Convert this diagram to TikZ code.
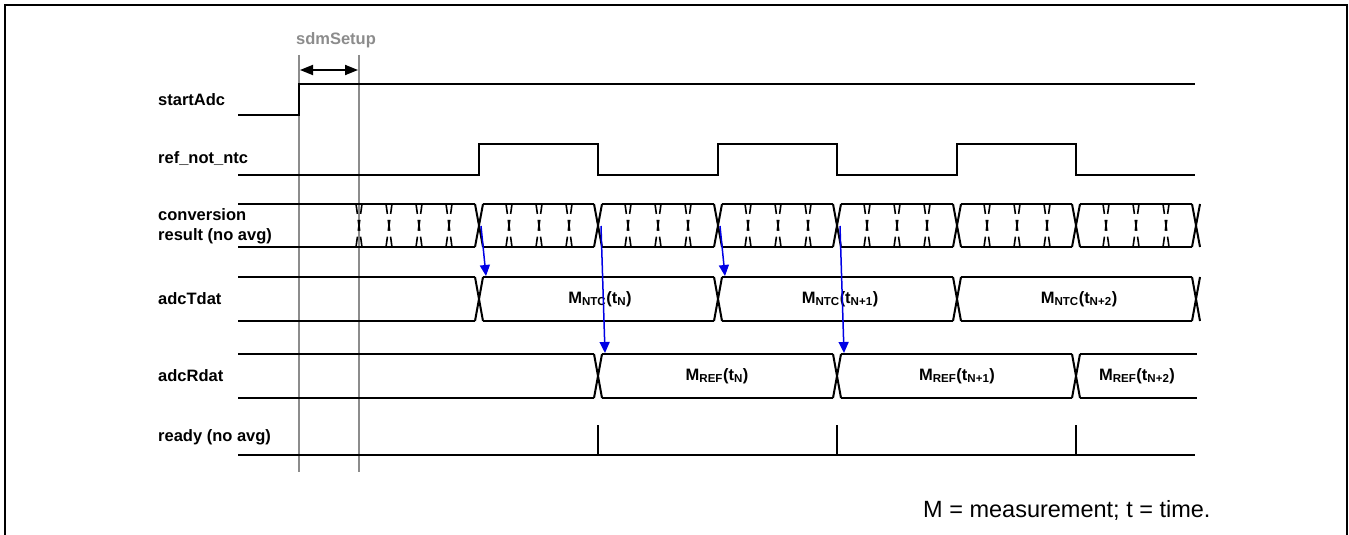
\documentclass[tikz,border=0pt]{standalone}
\usepackage{fontspec}
\setmainfont{Liberation Sans}
\usetikzlibrary{arrows.meta}
\tikzset{
  sig/.style={line width=2pt, black, line cap=butt, line join=miter},
  bus/.style={line width=2pt, black},
  marker/.style={line width=1.6pt, black!45},
  lbl/.style={font=\fontsize{16.5}{20}\selectfont\bfseries, anchor=west, inner sep=0pt, align=left},
  val/.style={font=\fontsize{16.5}{20}\selectfont\bfseries, inner sep=0pt},
  flow/.style={line width=1.5pt, blue!90!black, -{Triangle[width=10pt,length=11pt]}},
  dimarrow/.style={line width=1.8pt, {Triangle[width=10pt,length=13pt]}-{Triangle[width=10pt,length=13pt]}},
  tickx/.style={line width=1.6pt, dash pattern=on 10pt off 6pt on 11pt off 6pt on 12pt}
}
\begin{document}
\begin{tikzpicture}[x=1pt,y=-1pt]
\useasboundingbox (0,0) rectangle (1349,535);
\clip (0,0) rectangle (1349,535);
% frame
\draw[line width=2.2pt] (5,545) -- (5,5) -- (1347,5) -- (1347,545);

% setup markers
\node[val, text=black!45] (setup) at (336,40) {sdmSetup};
\coordinate (m1t) at (299,55); \coordinate (m1b) at (299,472);
\coordinate (m2t) at (359,55); \coordinate (m2b) at (359,472);
\draw[marker] (m1t) -- (m1b);
\draw[marker] (m2t) -- (m2b);
\coordinate (d1) at (300,70); \coordinate (d2) at (358,70);
\draw[dimarrow] (d1) -- (d2);

% labels
\node[lbl] (lstart) at (158,100) {startAdc};
\node[lbl] (lref) at (158,159) {ref\_not\_ntc};
\node[lbl] (lconv) at (158,226) {conversion\\result (no avg)};
\node[lbl] (ltdat) at (158,299) {adcTdat};
\node[lbl] (lrdat) at (158,376) {adcRdat};
\node[lbl] (lready) at (158,437) {ready (no avg)};

% startAdc
\draw[sig] (238,115) -- (299,115) -- (299,84) -- (1195,84);

% ref_not_ntc
\draw[sig] (238,175) -- (479,175) -- (479,144) -- (598,144) -- (598,175) -- (718,175) -- (718,144) -- (837,144) -- (837,175) -- (957,175) -- (957,144) -- (1076,144) -- (1076,175) -- (1195,175);

% conversion result bus
\def\ct{204}\def\cb{247}
\draw[bus] (238,\ct) -- (475,\ct) (238,\cb) -- (475,\cb);
\foreach \a/\b in {479/598,598/718,718/837,837/957,957/1076,1076/1196}{
  \draw[bus] (\a+4,\ct) -- (\b-4,\ct) (\a+4,\cb) -- (\b-4,\cb);
}
\foreach \x in {479,598,718,837,957,1076,1196}{
  \draw[bus] (\x-4,\ct) -- (\x+4,\cb) (\x+4,\ct) -- (\x-4,\cb);
}
\foreach \x in {359,389,419,449}{
  \draw[tickx] (\x-3,\ct) -- (\x+3,\cb) (\x+3,\ct) -- (\x-3,\cb);
}
\foreach \s in {479,598,718,837,957,1076}{
  \foreach \k in {30,60,90}{
    \draw[tickx] (\s+\k-3,\ct) -- (\s+\k+3,\cb) (\s+\k+3,\ct) -- (\s+\k-3,\cb);
  }
}

% adcTdat bus
\def\tt{277}\def\tb{321}
\draw[bus] (238,\tt) -- (475,\tt) (238,\tb) -- (475,\tb);
\foreach \a/\b in {479/718,718/957,957/1196}{
  \draw[bus] (\a+4,\tt) -- (\b-4,\tt) (\a+4,\tb) -- (\b-4,\tb);
}
\foreach \x in {479,718,957,1196}{
  \draw[bus] (\x-4,\tt) -- (\x+4,\tb) (\x+4,\tt) -- (\x-4,\tb);
}
\node[val] (t1) at (600,299) {M\textsubscript{NTC}(t\textsubscript{N})};
\node[val] (t2) at (840,299) {M\textsubscript{NTC}(t\textsubscript{N+1})};
\node[val] (t3) at (1079,299) {M\textsubscript{NTC}(t\textsubscript{N+2})};

% adcRdat bus
\def\rt{354}\def\rb{398}
\draw[bus] (238,\rt) -- (594,\rt) (238,\rb) -- (594,\rb);
\foreach \a/\b in {598/837,837/1076}{
  \draw[bus] (\a+4,\rt) -- (\b-4,\rt) (\a+4,\rb) -- (\b-4,\rb);
}
\draw[bus] (1080,\rt) -- (1197,\rt) (1080,\rb) -- (1197,\rb);
\foreach \x in {598,837,1076}{
  \draw[bus] (\x-4,\rt) -- (\x+4,\rb) (\x+4,\rt) -- (\x-4,\rb);
}
\node[val] (r1) at (717,376) {M\textsubscript{REF}(t\textsubscript{N})};
\node[val] (r2) at (957,376) {M\textsubscript{REF}(t\textsubscript{N+1})};
\node[val] (r3) at (1137,376) {M\textsubscript{REF}(t\textsubscript{N+2})};

% ready
\draw[sig] (238,455) -- (1195,455);
\foreach \x in {598,837,1076}{
  \draw[sig] (\x,425) -- (\x,455);
}

% data flow arrows
\coordinate (s1) at (481,226); \coordinate (e1) at (486,276);
\coordinate (s2) at (601,226); \coordinate (e2) at (605,353);
\coordinate (s3) at (720,226); \coordinate (e3) at (725,276);
\coordinate (s4) at (840,226); \coordinate (e4) at (844,353);
\draw[flow] (s1) -- (e1);
\draw[flow] (s2) -- (e2);
\draw[flow] (s3) -- (e3);
\draw[flow] (s4) -- (e4);

% note
\node[font=\fontsize{23.5}{27}\selectfont, anchor=west, inner sep=0pt] (note) at (923,510) {M = measurement; t = time.};
\end{tikzpicture}
\end{document}
